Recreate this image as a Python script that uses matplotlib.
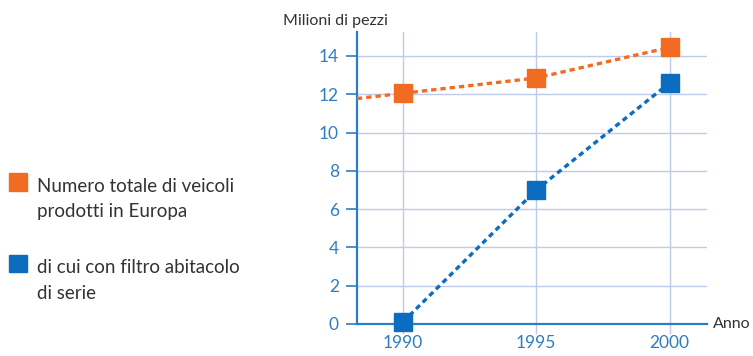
import matplotlib
matplotlib.use("Agg")
import matplotlib.pyplot as plt
from matplotlib.patches import Rectangle

# dati
anni = [1990, 1995, 2000]
totale_veicoli = [12.05, 12.85, 14.45]
con_filtro = [0.1, 7.0, 12.6]
y_ticks = [0, 2, 4, 6, 8, 10, 12, 14]
etichetta_totale = ["Numero totale di veicoli", "prodotti in Europa"]
etichetta_filtro = ["di cui con filtro abitacolo", "di serie"]

arancio = "#F26B22"
blu = "#0B6CC0"
griglia = "#BFCBEA"
testo_blu = "#2F7DC1"
testo = "#333333"

plt.rcParams["font.family"] = ["Lato", "DejaVu Sans"]

fig = plt.figure(figsize=(7.53, 3.56), dpi=100)
ax = fig.add_axes([0.474, 0.0899, 0.939 - 0.474, 0.910 - 0.0899])

x0, x1 = 1988.28, 2001.4
ax.set_xlim(x0, x1)
ax.set_ylim(0, 15.25)

# linea arancio prolungata fino all'asse (pendenza del primo tratto)
pend = (totale_veicoli[1] - totale_veicoli[0]) / (anni[1] - anni[0])
xs = [x0] + anni
ys = [totale_veicoli[0] + pend * (x0 - anni[0])] + totale_veicoli
ax.plot(xs, ys, color=arancio, lw=2.4, dashes=(1.6, 1.2), zorder=3, clip_on=False)
ax.plot(anni, totale_veicoli, ls="none", marker="s", ms=13, color=arancio, zorder=4, clip_on=False)

ax.plot(anni, con_filtro, color=blu, lw=2.4, dashes=(1.6, 1.2), zorder=3, clip_on=False)
ax.plot(anni, con_filtro, ls="none", marker="s", ms=13, color=blu, zorder=4, clip_on=False)

ax.set_xticks(anni)
ax.set_yticks(y_ticks)
ax.grid(True, color=griglia, lw=1)
ax.set_axisbelow(True)
for s in ["top", "right"]:
    ax.spines[s].set_visible(False)
ax.spines["left"].set_color(testo_blu)
ax.spines["left"].set_linewidth(1.6)
ax.spines["bottom"].set_color(testo_blu)
ax.spines["bottom"].set_linewidth(1.6)
ax.tick_params(axis="y", colors=testo_blu, labelsize=12.5, length=8, width=1.2, pad=5)
ax.tick_params(axis="x", colors=griglia, labelcolor=testo_blu, labelsize=12.5, length=7, width=1, pad=1)

fig.text(283 / 753, 1 - 21 / 356, "Milioni di pezzi", fontsize=11.5, color=testo, va="center", ha="left")
fig.text(713 / 753, 1 - 324 / 356, "Anno", fontsize=11.5, color=testo, va="center", ha="left")

# legenda a sinistra (posizioni in pixel dal riferimento)
for ytop, alt, basi, col, righe in [(173, 18, (192, 217), arancio, etichetta_totale),
                                    (255, 17, (273, 299), blu, etichetta_filtro)]:
    fig.patches.append(Rectangle((9 / 753, 1 - (ytop + alt) / 356), 18 / 753, alt / 356,
                                 transform=fig.transFigure, color=col))
    for base, riga in zip(basi, righe):
        fig.text(37 / 753, 1 - base / 356, riga, fontsize=13.5, color=testo,
                 va="baseline", ha="left")

fig.savefig("out.png", dpi=100)
